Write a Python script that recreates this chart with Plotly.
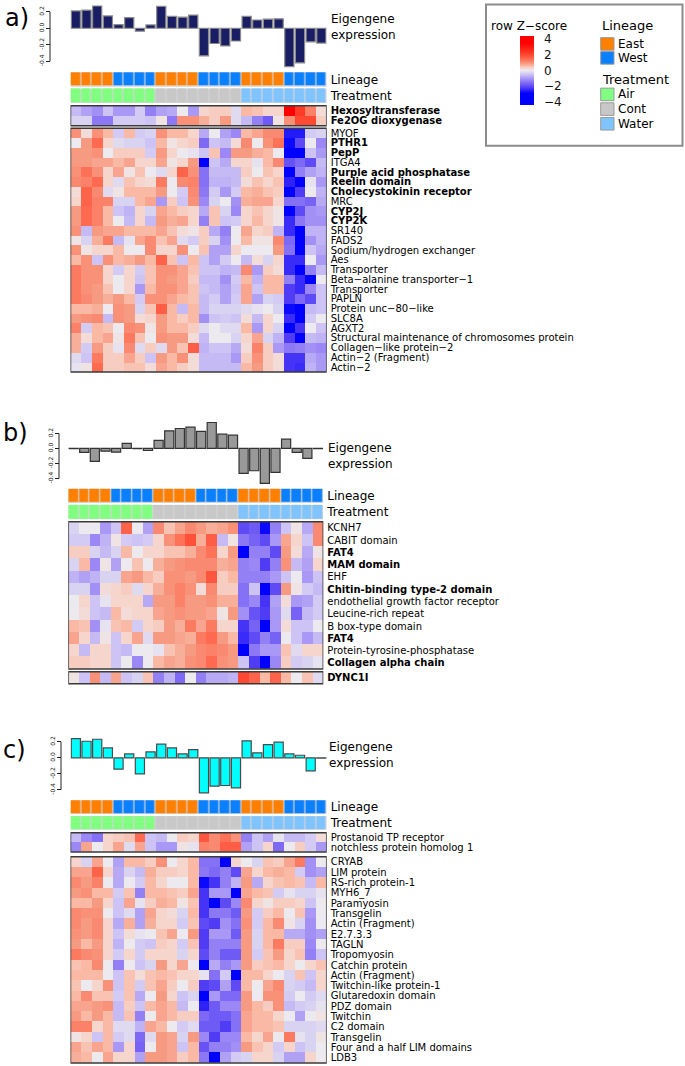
import plotly.graph_objects as go

W, H = 685, 1066

# sample annotations (24 samples)
lineage = (['East'] * 4 + ['West'] * 4) * 3
treatment = ['Air'] * 8 + ['Cont'] * 8 + ['Water'] * 8

# module eigengene expression
eig_a = [0.21, 0.22, 0.27, 0.15, 0.045, 0.13, -0.035, 0.04, 0.265, 0.145, 0.135, 0.16,
         -0.335, -0.185, -0.215, -0.155, 0.145, 0.10, 0.11, 0.115, -0.465, -0.42, -0.165, -0.18]
eig_b = [-0.004, -0.053, -0.173, -0.036, -0.049, 0.067, -0.004, -0.027, 0.107, 0.236, 0.267, 0.284,
         0.227, 0.347, 0.191, 0.178, -0.333, -0.298, -0.467, -0.32, 0.124, -0.053, -0.133, -0.003]
eig_c = [0.242, 0.208, 0.233, 0.125, -0.142, 0.05, -0.2, 0.075, 0.171, 0.125, 0.05, 0.104,
         -0.438, -0.354, -0.346, -0.375, 0.213, 0.063, 0.167, 0.196, 0.05, 0.033, -0.163, -0.003]

# gene labels
genes_a_top = ['Hexosyltransferase', 'Fe2OG dioxygenase']
genes_a = ['MYOF', 'PTHR1', 'PepP', 'ITGA4', 'Purple acid phosphatase', 'Reelin domain',
           'Cholecystokinin receptor', 'MRC', 'CYP2J', 'CYP2K', 'SR140', 'FADS2',
           'Sodium/hydrogen exchanger', 'Aes', 'Transporter', 'Beta−alanine transporter−1',
           'Transporter', 'PAPLN', 'Protein unc−80−like', 'SLC8A', 'AGXT2',
           'Structural maintenance of chromosomes protein', 'Collagen−like protein−2',
           'Actin−2 (Fragment)', 'Actin−2']
genes_b = ['KCNH7', 'CABIT domain', 'FAT4', 'MAM domain', 'EHF', 'Chitin-binding type-2 domain',
           'endothelial growth factor receptor', 'Leucine-rich repeat', 'B box-type domain', 'FAT4',
           'Protein-tyrosine-phosphatase', 'Collagen alpha chain']
genes_b_bot = ['DYNC1I']
genes_c_top = ['Prostanoid TP receptor', 'notchless protein homolog 1']
genes_c = ['CRYAB', 'LIM protein', 'RS-rich protein-1', 'MYH6_7', 'Paramyosin', 'Transgelin',
           'Actin (Fragment)', 'E2.7.3.3', 'TAGLN', 'Tropomyosin', 'Catchin protein',
           'Actin (Fragment)', 'Twitchin-like protein-1', 'Glutaredoxin domain', 'PDZ domain',
           'Twitchin', 'C2 domain', 'Transgelin', 'Four and a half LIM domains', 'LDB3']
bold_genes = {'Hexosyltransferase', 'Fe2OG dioxygenase', 'PTHR1', 'PepP', 'Purple acid phosphatase',
              'Reelin domain', 'Cholecystokinin receptor', 'CYP2J', 'CYP2K', 'FAT4', 'MAM domain',
              'Chitin-binding type-2 domain', 'Collagen alpha chain', 'DYNC1I'}

# row z-scores
z_a_top = [
    [-0.6, -0.9, -1.1, -0.5, -1.0, -1.0, -0.4, -1.3, -0.9, -0.8, 0, -1.0, 0.3, 0.4, 0.4, -0.2, 0.6, 0.5, 0.3, 0.3, 3.5, 2.2, 1.2, 0.2],
    [-0.3, -0.3, -1.4, -1.4, -0.4, -0.4, -0.4, -0.5, 0.1, -1.4, 1.0, 1.0, 0.7, 0.4, 0.9, -0.2, -0.6, -1.3, -1.8, 0.1, 1.0, 2.0, 2.0, 0.4],
]
z_a = [
    [1.0, 0.2, 1.0, 0.6, -0.4, 0.6, -0.4, -0.3, 1.0, 0.6, 0.6, 0.3, -0.8, 0, -0.9, -1.2, 0.6, 0.8, 1.1, 1.1, -2.6, -2.6, -0.4, -0.3],
    [0, 0.9, 1.5, 0.3, -0.2, -0.3, -0.3, -0.5, 0.6, 0.1, 0.3, 0.4, -1.6, -0.5, -0.6, 0.2, 1.1, 0, 1.0, 1.4, -2.8, -2.0, 0, -1.2],
    [0.9, 0.9, 1.0, 0, 0.4, 0.4, 0.4, -0.4, 0.9, 0.3, 0, -0.1, -0.5, 0.5, -1.2, 0.9, 0.9, 0.7, 0.6, 0, -3.0, -3.5, -0.5, -1.0],
    [0.9, 0.9, 0.8, 0.8, 0.6, 0.8, 0.3, 0.3, 0.8, 0.1, 0.3, 0.9, -3.2, -0.5, -0.8, 0.3, 0.3, -0.1, 0.6, 1.1, -1.9, -1.6, -2.0, -0.6],
    [1.0, 1.4, 1.0, 0.3, 0.8, 0.1, 0.5, 0, -0.2, 0.3, 1.6, 1.0, -1.5, -0.6, -0.6, -0.6, 0.4, 0, 0.5, 0.3, -3.5, -1.3, -0.9, -0.7],
    [1.1, 1.2, 1.5, 0.3, -0.2, 0.5, 0.3, 0.2, 1.3, 0, 1.1, 1.2, -1.5, -0.7, -0.7, -0.6, 0.2, 0.5, 0.3, 0.5, -2.5, -3.0, -0.1, -1.0],
    [0.2, 1.6, 1.1, -0.2, 0.1, 0.6, 0.6, 0.6, 0.9, 0, -0.4, 1.1, -1.4, -0.4, -1.0, -0.4, 0.6, 0.7, 0.5, 0.4, -3.5, -2.2, 0, -0.7],
    [0.3, 1.6, 1.2, 1.2, -0.3, -0.3, 0.6, 0.8, -1.0, 0.4, -0.5, 1.0, -1.2, -0.3, 0, -1.1, 0.7, 0.8, 0.8, 0.3, -1.5, -1.5, -1.7, -0.8],
    [0.9, 1.5, 1.2, 0.6, -0.5, -0.7, 0.3, -0.3, 0.8, 0.6, 0.4, 0.3, -0.8, 0.5, -0.3, -1.2, 0.3, 0.5, 0.3, 0.1, -3.0, -2.0, -1.1, -1.0],
    [0.9, 1.5, 1.2, 0.6, 0, -0.6, 0.3, -0.6, 0.9, 0.7, 0.8, 0.3, -1.3, 0.5, -0.5, -0.4, 0.3, 0.6, 0.3, 0.1, -2.4, -1.4, -1.1, -1.1],
    [1.0, -0.6, 0.9, 0.8, 0.8, 0.6, 0.6, 0.6, 0.8, 0.5, 0.2, 0.1, 0.4, -0.8, -1.3, 0, 0.8, 0.3, 0.4, -0.7, -2.4, -3.2, -0.7, -0.7],
    [0.1, -0.3, 0.7, 1.3, -0.6, -0.1, 0.8, 1.1, 0.5, 0.8, -0.2, -0.4, 0.4, -0.3, -1.1, 0, 0.6, 0.1, 0.1, 1.1, -1.6, -3.3, -1.1, -0.7],
    [1.0, 0.1, 0.3, 0.3, 0.6, 0, 0, 1.1, 0.3, 0.3, 1.0, 0, 0.5, -0.9, -0.9, 0.3, 0, 0, 0, 0.9, -1.5, -3.5, -0.5, -0.8],
    [0.6, 1.0, -0.5, 1.0, 0.6, 0.7, 0.9, 0.6, 1.6, 0.5, -0.5, 0.6, -0.5, -0.9, -0.4, 0, -0.6, 0.2, -0.3, 0.3, -2.4, -2.4, 0, -1.0],
    [1.3, 1.0, 1.0, 0.3, -0.4, 0.3, -0.4, 0.5, 1.0, 1.0, 0.8, 0.5, -0.5, -0.5, -0.7, -0.6, 1.1, -1.0, 0.4, 0.2, -2.4, -3.0, -1.3, -0.6],
    [1.3, 1.0, 1.0, 0.3, 0, 0.3, -0.5, 0.5, 1.0, 0.9, 0.8, 0.4, -0.6, -0.6, -1.1, -0.4, 0.6, -0.7, 0.6, 0.6, -1.3, -2.4, -3.5, 0],
    [1.3, 1.0, 0.9, 0.5, 0, 0.3, -1.0, 0.6, 1.0, 1.0, 0.8, 0.5, -0.5, -0.6, -0.9, -0.5, 0.8, -0.5, 0.6, 0.6, -2.2, -2.4, -1.2, -0.5],
    [1.3, 1.1, 0.9, 0.7, 0.9, 0.6, -0.4, 1.0, 1.0, 0.8, 0.6, 0.5, -0.6, -0.4, -0.9, -0.4, 0.8, -0.9, -0.3, -0.4, -2.2, -1.6, -2.0, -0.5],
    [0.6, 0.6, 0.7, 0, 1.0, 0.9, -0.3, 0.5, 1.7, 0.6, -0.6, 0.6, -0.6, -0.3, -0.3, -0.3, -0.2, -0.1, 0, -0.3, -2.8, -3.0, -0.6, -0.5],
    [0.9, 1.0, 1.1, -0.6, 1.0, 0.9, 0.2, 0.3, 0.9, 0.6, 0.4, 0.6, -1.1, -0.5, -0.4, -0.5, 0.2, -0.6, 0.3, 0, -2.4, -3.0, -0.4, 0],
    [1.2, -0.4, 0.6, 0.5, 0, 1.1, 1.0, 0.1, 0.9, 0.6, 0.6, 0.4, -0.2, 0, -0.2, -0.2, 0.6, -1.0, 0.3, -0.3, -3.5, -2.3, 0, -0.5],
    [0.7, 0.2, 0.6, 0.8, 0.1, 1.3, 0.5, 0, 1.0, 0.9, 0.9, 0.2, -0.6, 0, 0, -0.3, 0.3, 0.8, -0.3, -0.7, -2.2, -3.5, -0.6, -0.7],
    [0.7, -0.4, 0.9, 0.4, -0.1, 1.1, -0.2, 0.4, -0.2, 0.9, 0.5, 1.7, -0.7, -0.5, -0.5, -0.8, 0.2, 1.2, 0.4, -1.0, -1.4, -1.3, -1.1, -1.2],
    [-0.2, -0.5, 1.3, 0.4, 0.4, 0.8, 0.4, -0.5, 0.9, 0.6, 1.0, 0.2, -0.6, -0.6, -0.6, -1.0, 0.4, 1.0, 0.4, 0.2, -2.3, -2.3, -0.8, -1.0],
    [-0.1, 0.1, 1.5, 0.4, 0.4, 0.5, 0.5, 0.2, 0.8, 0.6, 0.4, 0.2, -0.6, -0.6, -0.6, -0.6, 0.6, 0.9, 0.4, 0.2, -2.3, -2.4, -0.7, -1.0],
]
z_b = [
    [-0.3, 0, 0, -1.0, -0.5, 1.6, 0, -0.9, 1.1, 0.5, 0.8, 1.1, 0.9, 0.7, 0.8, 1.0, -2.0, -1.8, -2.8, -1.3, -0.5, 0.1, -0.8, 1.1],
    [-0.4, -0.4, -1.2, -0.7, 0.1, -0.4, -0.5, -0.4, 0.3, 1.0, 1.4, 1.9, 0.7, 1.7, -0.6, 0.1, -1.4, -1.7, -2.0, -1.0, 0.8, 0.3, -0.5, 1.1],
    [0.4, 0.4, -0.3, -0.6, -0.3, 0.6, 0, 0.3, 0.3, 0.5, 0.5, 0.7, 1.1, 1.4, 0.3, 0.9, -3.0, -1.3, -1.3, -2.0, 0.9, 0.2, -0.8, 0.1],
    [-0.3, 0.6, -1.2, 0.1, -0.9, 0, 0.5, 0, 0.7, 0.9, 1.0, 1.1, 1.1, 1.1, 0.7, 0.8, -1.3, -1.2, -2.2, -1.3, 1.0, -0.6, -0.9, 0.3],
    [-0.7, -0.9, -0.7, -0.3, -0.3, 0.8, 0.9, 0.6, 0.4, 1.0, 1.0, 0.9, 1.1, 1.8, 0.4, 0.6, -1.3, -1.3, -1.3, -1.0, -0.5, 0, -1.0, -0.5],
    [-0.3, -0.3, -1.1, 0.2, 0.3, 0.4, -0.2, 0.3, 0.7, 1.0, 1.2, 1.0, 0.2, 1.1, 0.4, 0.4, -1.5, -0.5, -3.0, -2.0, 0.9, 0.1, -0.4, -0.6],
    [0, 0.3, -0.5, -0.1, 0.3, 0.3, 0.3, -0.8, 0.9, 0.9, 1.2, 0.9, 0.9, 1.0, 0.7, 0.7, -1.5, -1.2, -2.3, -0.9, 0.2, -1.0, -0.9, -0.4],
    [0, 0.2, -0.5, -0.6, 0.6, 0.2, 0.3, 0.3, 0.8, 0.9, 1.0, 0.9, 0.9, 0.8, 0.1, 0.9, -1.1, -1.9, -2.2, -1.0, -0.2, -1.7, -0.6, -0.4],
    [0.6, 0.5, -1.1, -0.1, 0.5, 0.6, -0.4, 0.3, 0.4, 0.9, 0.7, 1.3, 0.8, 1.3, 0.3, 0.3, -2.3, -1.7, -3.2, -1.0, 0.2, -0.5, -0.5, 0],
    [0.8, 0.3, -0.6, 0.1, -0.5, 0.3, 0.8, -0.2, 0.9, 0.9, 0.8, 0.7, 1.3, 1.5, 0.9, 0.6, -2.4, -2.0, -1.3, -1.7, 0, -0.5, -1.0, -0.6],
    [0.3, -0.6, 0.3, 0.3, -0.5, -0.6, 0, 0, -0.1, 0.5, 0.7, 0.9, 1.1, 1.2, 1.1, 0.9, -3.2, -1.4, -1.0, -1.0, 0.5, -0.2, 0.3, 0.3],
    [0.4, 0.4, 0.3, 0.3, -0.5, 0, -1.2, 0, 0.6, 0.8, 0.7, 1.0, 1.1, 1.5, 1.0, 0.9, -0.5, -2.2, -3.2, -1.2, 0.4, -0.4, -0.3, -0.1],
]
z_b_bot = [
    [0.1, -0.5, 1.0, -0.6, 0.8, -0.5, -0.3, 0.5, -1.3, -0.7, -1.6, 0, -1.3, -0.8, -0.8, -0.7, 2.0, 1.6, 0.6, 1.6, 0.6, 0, 0.5, -0.2],
]
z_c_top = [
    [-0.6, -1.2, -1.5, 0.3, 0.4, 0.5, 1.5, -0.5, -0.6, 0, 0.4, 0.3, 1.8, 1.1, 1.4, 1.0, -1.3, -0.5, -0.9, -0.1, -0.6, -0.6, -0.4, 0.2],
    [-1.2, 0.8, 0, 0.3, 0.8, -0.2, 0.8, -0.5, -1.0, -1.0, 0.1, -0.1, 1.2, 1.1, 1.7, 1.7, -0.9, -0.5, 0.3, -1.6, 0, 0.4, -0.4, -1.0],
]
z_c = [
    [0.3, -0.3, 0.8, 0, -0.9, 0.6, 0.6, 0.4, 1.0, 0, 0.3, 0.6, -1.5, -1.5, -3.2, 0.3, 0, -0.3, 0.5, 0.4, 0.8, 1.3, -1.1, 0],
    [0.8, 0.8, 1.6, 0.3, -0.8, -0.3, -0.6, 0.7, 0.4, 0.4, 0.3, 0.6, -1.4, -1.6, -1.3, -2.0, 0.8, 0.3, 0.6, 0.7, 0.6, -0.4, -1.1, -0.9],
    [1.1, 0.9, 1.2, 0, -0.8, 0, -0.4, 0.6, 0.3, 0, 0, 0.6, -2.8, -2.3, -1.3, -0.7, 0.9, -0.8, 0.3, 0.5, 0.6, 0.5, -0.6, 0.6],
    [0.9, 1.0, 0.6, 0.6, -0.4, 0.5, -1.3, 0.6, 0.6, 0.5, 0.4, 0.8, -2.3, -1.0, -1.0, -3.5, 0.8, 0.6, 0.5, -0.4, -0.1, -0.3, -0.3, -0.1],
    [0.6, 0.6, 0.9, 0.3, -0.5, 0.8, -0.1, 0.4, 0.7, 0.6, 0.1, 0.5, -2.3, -3.5, -2.0, -1.2, 1.1, 0.3, 0.1, 0.4, 0.4, 0.3, -0.5, 0],
    [1.1, 1.0, 1.0, 0, -0.5, -0.2, -0.9, 0.8, 0.3, 0.2, -0.3, 0.6, -2.3, -1.4, -1.4, -1.8, 0.9, -0.4, 0.4, 0.6, 0, 0.5, -1.0, 0],
    [1.1, 0.9, 1.1, 0.3, -0.8, 0.7, -0.9, 0.7, 0.3, 0.3, -0.4, 0.5, -2.0, -2.2, -1.1, -1.5, 1.0, -0.4, 0.6, 1.1, 0.1, -0.3, -1.1, 0],
    [1.0, 0.9, 1.1, 0.3, -0.5, 0.2, -0.1, 0, 0.5, 0.8, 0, 0.9, -2.2, -1.0, -1.0, -1.8, 0.9, -0.3, 0.6, 0.6, -0.8, -0.8, -1.1, -0.9],
    [0.9, 0.6, 0.9, 0.3, -0.7, 0, -0.4, -0.5, 0.4, 0.3, -0.4, 0.5, -2.2, -1.3, -1.3, -1.3, 0.9, -0.3, 0.6, 1.3, 0.4, 0.4, -1.2, 0],
    [1.3, 1.1, 1.0, 0.3, -0.4, 0.3, -0.4, 0.3, 0.3, 0.3, -0.3, 0.3, -2.0, -1.3, -1.8, -1.8, 0.9, -0.4, 0.5, 0.9, 0.3, 0.5, -1.3, -0.5],
    [0.5, 0.6, 1.1, 0, -1.3, 0, -0.5, -0.3, 0.9, 0.3, 0.8, 0, -3.5, -0.8, -1.3, -1.0, 0.9, 0.4, 0.5, 0.6, 0.3, 0, 0.3, 0.5],
    [0.6, 0.6, 0.6, 0, -0.5, 0.5, 0.2, 0.5, 0.6, 0.5, 0.3, 0.3, -0.1, -1.5, -0.4, -3.5, 0.6, 0.6, 0.3, 0, -0.3, 0.5, -0.5, 0.3],
    [0.5, 0, 0.3, 1.0, -0.5, 0.5, -0.4, 0.5, 0.8, 0.4, 0, 0.4, -2.2, -2.0, -0.9, -2.0, 0.6, 0, 0.8, 1.1, -0.3, -0.4, -0.6, 0.3],
    [0.6, 1.1, 0.5, 0.5, -0.4, 0.5, -0.8, 0, 0.9, 0.3, -0.5, -0.3, -3.0, -1.0, -1.6, -1.6, 0.9, 0, 1.0, 1.0, -0.4, 0, -0.4, -0.2],
    [0.8, 0.8, 0.9, 1.0, -0.6, 0.4, -0.5, 0.6, 0.8, 0.6, -0.6, 0, -2.5, -1.8, -1.2, -1.2, 0.9, 0.6, 0.4, 1.0, -0.6, -0.4, -0.3, -0.1],
    [0.9, 0.6, 0.9, 0.6, -0.6, 0.5, -1.3, 0, 0.8, 0.6, 0.4, 0.4, -1.6, -1.8, -1.8, -1.5, 0.8, 0.6, 0.6, 0.3, 0, -0.9, 0, 0.1],
    [1.2, 1.2, 0.3, 0.6, -0.2, -0.2, -0.7, 0.8, 0.6, 0, -0.4, -0.2, -1.8, -1.8, -2.2, -1.5, 0.8, 0.6, 0.6, 0.5, -0.3, -0.3, -0.3, -0.2],
    [0.1, 0.3, -0.5, 0.6, -0.4, -0.2, -1.6, -0.2, 0.9, 0.8, -0.3, 0.9, -1.2, -2.2, -1.2, -1.2, 0.6, 0.3, 0.8, 0, 1.3, -0.1, -0.3, 0.1],
    [0.8, 0.5, 0.8, 0.6, -1.0, 0.3, -1.7, 0, 0.9, 0.8, -0.5, 0.6, -1.9, -1.3, -1.3, -1.1, 0.9, 0.5, 0.3, -0.4, 0.3, -0.5, -0.3, 0],
    [0.7, 0.6, 0, 0.8, 0.3, 0.3, -0.9, 0.9, 0.9, 0.8, 0.4, 0.6, -1.4, -3.5, -0.9, -0.4, -0.3, 0.3, 0.3, -0.3, -0.9, -0.9, 0.3, 0],
]

FONT = 'DejaVu Sans, Verdana, sans-serif'
ZMIN, ZMAX = -4.4, 4.4
stops = [(-4.4, '#0000FF'), (-2.9, '#0000FF'), (-2.2, '#503CF5'), (-1.2, '#9B87F5'),
         (-0.5, '#CDC3F5'), (0, '#ECEAEE'), (0.35, '#F8D2C8'), (0.6, '#F9B9A5'),
         (0.95, '#F7957C'), (1.5, '#FF6A50'), (2.2, '#FF3C28'), (3.5, '#FF0000'), (4.4, '#FF0000')]
zscale = [[(v - ZMIN) / (ZMAX - ZMIN), c] for v, c in stops]

annot_names = ['East', 'West', 'Air', 'Cont', 'Water']
annot_colors = ['#FF7F00', '#0A80FF', '#80FF80', '#C8C8C8', '#80C4FF']
annot_scale = []
for i, c in enumerate(annot_colors):
    annot_scale += [[i / 5, c], [(i + 1) / 5, c]]
annot_z = [[annot_names.index(v) for v in lineage], [annot_names.index(v) for v in treatment]]

cols = list(range(24))


def ydom(top, bottom):
    return [1 - bottom / H, 1 - top / H]


def label(g):
    return '<b>' + g + '</b>' if g in bold_genes else g


fig = go.Figure()
layout_axes = {}
shapes = []


def heat_block(yname, xname, z, labels, top, bottom, show_scale=False, size=10):
    n = len(z)
    fig.add_trace(go.Heatmap(z=z, x=cols, y=list(range(n)), xaxis=xname, yaxis=yname,
                             colorscale=zscale, zmin=ZMIN, zmax=ZMAX, showscale=show_scale,
                             hoverinfo='skip',
                             colorbar=dict(x=519.5 / W, xanchor='left', y=1 - 35 / H, yanchor='top',
                                           len=69, lenmode='pixels', thickness=14, thicknessmode='pixels',
                                           xpad=0, ypad=0, outlinewidth=0, ticks='outside', ticklen=8,
                                           tickcolor='white', tickvals=[-4, -2, 0, 2, 4],
                                           ticktext=['−4', '−2', '0', '2', '4'],
                                           tickfont=dict(size=12, family=FONT, color='#111'))))
    key = 'yaxis' + yname[1:]
    layout_axes[key] = dict(domain=ydom(top, bottom), anchor=xname, side='right',
                            range=[n - 0.5, -0.5], tickvals=list(range(n)),
                            ticktext=[label(g) for g in labels], ticks='', showgrid=False,
                            zeroline=False, showline=False, ticklabelstandoff=3,
                            tickfont=dict(size=size, family=FONT, color='black'))
    shapes.append(dict(type='rect', xref=xname, yref=yname + ' domain', x0=-0.5, x1=23.5, y0=0, y1=1,
                       line=dict(color='#3A3A3A', width=1.5), fillcolor='rgba(0,0,0,0)'))


def annot_block(yname, xname, top, bottom):
    fig.add_trace(go.Heatmap(z=annot_z, x=cols, y=[0, 1], xaxis=xname, yaxis=yname,
                             colorscale=annot_scale, zmin=-0.5, zmax=4.5, showscale=False,
                             xgap=1.2, ygap=3, hoverinfo='skip'))
    key = 'yaxis' + yname[1:]
    layout_axes[key] = dict(domain=ydom(top, bottom), anchor=xname, side='right',
                            range=[1.5, -0.5], tickvals=[0, 1], ticktext=['Lineage', 'Treatment'],
                            ticks='', showgrid=False, zeroline=False, showline=False,
                            ticklabelstandoff=3, tickfont=dict(size=12, family=FONT, color='black'))
    for r in (0, 1):
        shapes.append(dict(type='rect', xref=xname, yref=yname, x0=-0.5, x1=23.5,
                           y0=r - 0.5 + 0.06, y1=r + 0.5 - 0.06, layer='below',
                           line=dict(width=0), fillcolor='#D4D4D4'))


def bar_block(yname, xname, vals, zero_px, scale, rng, axis_x, color, edge):
    fig.add_trace(go.Bar(x=cols, y=vals, xaxis=xname, yaxis=yname, width=0.86,
                         marker=dict(color=color, line=dict(color=edge, width=1.2)),
                         hoverinfo='skip'))
    top = zero_px - rng[1] * scale
    bottom = zero_px - rng[0] * scale
    key = 'yaxis' + (yname[1:] if yname != 'y' else '')
    layout_axes[key] = dict(domain=ydom(top, bottom), anchor='free', position=axis_x / W, side='left',
                            range=rng, tickvals=[-0.4, -0.2, 0, 0.2],
                            ticktext=['-0.4', '-0.2', '0.0', '0.2'], ticks='outside', ticklen=4,
                            tickwidth=1, tickcolor='#222', tickangle=-90, showgrid=False,
                            zeroline=False, showline=False,
                            tickfont=dict(size=6, family=FONT, color='#222'))
    shapes.append(dict(type='line', xref='paper', yref=yname, x0=axis_x / W, x1=axis_x / W,
                       y0=-0.4, y1=0.2, line=dict(color='#222', width=1)))


# panel a
bar_block('y', 'x', eig_a, 27.3, 82.5, [-0.5, 0.3], 50, '#191E64', '#8A8A8A')
annot_block('y2', 'x', 70.4, 103.3)
heat_block('y3', 'x', z_a_top, genes_a_top, 105, 125)
heat_block('y4', 'x', z_a, genes_a, 127.5, 371.7, show_scale=True)
# panel b
bar_block('y5', 'x2', eig_b, 448.3, 75, [-0.5, 0.4], 59, '#999999', '#333333')
annot_block('y6', 'x2', 487.7, 520.3)
heat_block('y7', 'x2', z_b, genes_b, 521.7, 669.3)
heat_block('y8', 'x2', z_b_bot, genes_b_bot, 672, 684)
# panel c
bar_block('y9', 'x', eig_c, 758.3, 80, [-0.5, 0.3], 61, '#00FFFF', '#4A4A4A')
annot_block('y10', 'x', 799.7, 831.3)
heat_block('y11', 'x', z_c_top, genes_c_top, 833.3, 852.7)
heat_block('y12', 'x', z_c, genes_c, 857.3, 1064)

# legend box
shapes.append(dict(type='rect', xref='paper', yref='paper', x0=486 / W, x1=682.5 / W,
                   y0=1 - 145 / H, y1=1 - 3.5 / H, line=dict(color='#8C8C8C', width=2),
                   fillcolor='rgba(0,0,0,0)'))
legend_rows = [('East', 36.7), ('West', 50.7), ('Air', 87.3), ('Cont', 102), ('Water', 116.7)]
for name, top in legend_rows:
    shapes.append(dict(type='rect', xref='paper', yref='paper', x0=600.7 / W, x1=614 / W,
                       y0=1 - (top + 12.6) / H, y1=1 - top / H,
                       fillcolor=annot_colors[annot_names.index(name)],
                       line=dict(color='#9A9A9A', width=1)))

annotations = []


def text(s, x, y, size, xanchor='left'):
    annotations.append(dict(text=s, xref='paper', yref='paper', x=x / W, y=1 - y / H,
                            xanchor=xanchor, yanchor='middle', showarrow=False, align='left',
                            font=dict(size=size, family=FONT, color='black')))


for name, top in legend_rows:
    text(name, 616, top + 6.3, 12)
text('row Z−score', 489, 25, 12)
text('Lineage', 600, 25, 13)
text('Treatment', 600, 78.5, 13)
text('a)', 3, 17.5, 24)
text('b)', 1, 433, 24)
text('c)', 1, 750, 24)
text('Eigengene<br>expression', 329, 26, 12)
text('Eigengene<br>expression', 326, 455.5, 12)
text('Eigengene<br>expression', 327, 755, 12)

fig.update_layout(
    width=W, height=H, margin=dict(l=0, r=0, t=0, b=0),
    paper_bgcolor='white', plot_bgcolor='rgba(0,0,0,0)',
    showlegend=False, font=dict(family=FONT),
    xaxis=dict(domain=[70.5 / W, 326.7 / W], range=[-0.5, 23.5], anchor='y4', visible=False),
    xaxis2=dict(domain=[68.3 / W, 323.3 / W], range=[-0.5, 23.5], anchor='y7', visible=False),
    shapes=shapes, annotations=annotations,
    **layout_axes,
)

# page body margin would shift the figure; remove it
fig.write_html('out.html', config={'displayModeBar': False},
               post_script="document.body.style.margin='0';")
